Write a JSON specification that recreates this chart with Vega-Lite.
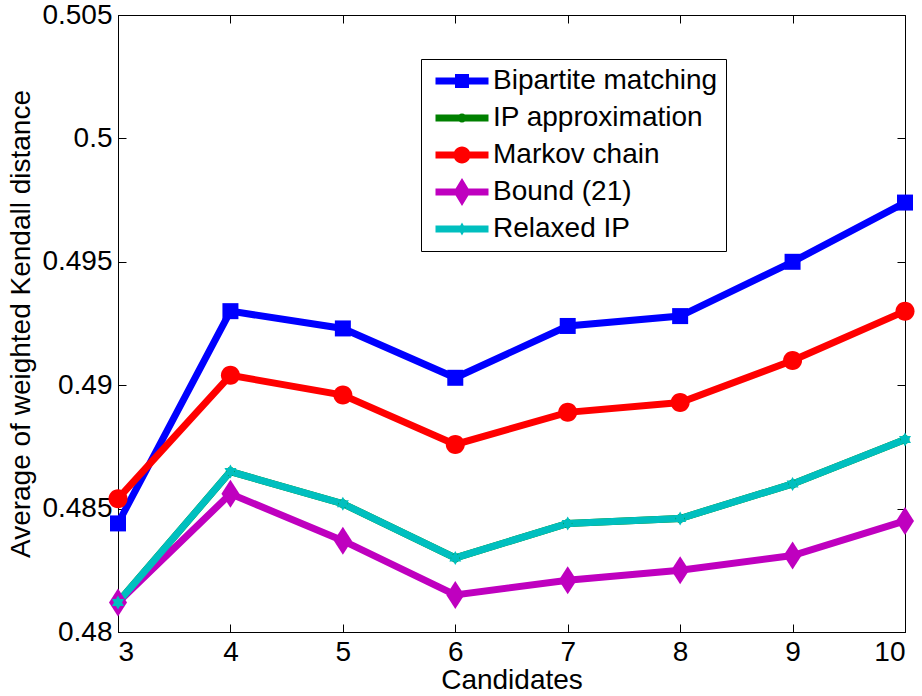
{
  "$schema": "https://vega.github.io/schema/vega-lite/v6.json",
  "width": 787,
  "height": 617,
  "autosize": "none",
  "padding": {"left": 118, "top": 15, "right": 17, "bottom": 64},
  "background": "white",
  "config": {
    "view": {"stroke": "black", "strokeWidth": 1},
    "font": "Liberation Sans",
    "axis": {
      "domainColor": "black",
      "tickColor": "black",
      "labelColor": "black",
      "titleColor": "black",
      "labelFont": "Liberation Sans",
      "titleFont": "Liberation Sans",
      "labelFontSize": 28,
      "titleFontSize": 28,
      "titleFontWeight": "normal",
      "grid": false,
      "tickSize": -8
    },
    "legend": {
      "orient": "none",
      "legendX": 303,
      "legendY": 44,
      "strokeColor": "black",
      "fillColor": "white",
      "padding": 8,
      "labelFont": "Liberation Sans",
      "labelFontSize": 28,
      "labelColor": "black",
      "labelLimit": 400,
      "symbolSize": 400,
      "symbolStrokeWidth": 0,
      "symbolOffset": 19,
      "labelOffset": 17,
      "rowPadding": 9
    }
  },
  "data": {
    "values": [
      {"series": "Bipartite matching", "x": 3, "y": 0.4844},
      {"series": "Bipartite matching", "x": 4, "y": 0.4930},
      {"series": "Bipartite matching", "x": 5, "y": 0.4923},
      {"series": "Bipartite matching", "x": 6, "y": 0.4903},
      {"series": "Bipartite matching", "x": 7, "y": 0.4924},
      {"series": "Bipartite matching", "x": 8, "y": 0.4928},
      {"series": "Bipartite matching", "x": 9, "y": 0.4950},
      {"series": "Bipartite matching", "x": 10, "y": 0.4974},
      {"series": "IP approximation", "x": 3, "y": 0.4812},
      {"series": "IP approximation", "x": 4, "y": 0.4865},
      {"series": "IP approximation", "x": 5, "y": 0.4852},
      {"series": "IP approximation", "x": 6, "y": 0.4830},
      {"series": "IP approximation", "x": 7, "y": 0.4844},
      {"series": "IP approximation", "x": 8, "y": 0.4846},
      {"series": "IP approximation", "x": 9, "y": 0.4860},
      {"series": "IP approximation", "x": 10, "y": 0.4878},
      {"series": "Markov chain", "x": 3, "y": 0.4854},
      {"series": "Markov chain", "x": 4, "y": 0.4904},
      {"series": "Markov chain", "x": 5, "y": 0.4896},
      {"series": "Markov chain", "x": 6, "y": 0.4876},
      {"series": "Markov chain", "x": 7, "y": 0.4889},
      {"series": "Markov chain", "x": 8, "y": 0.4893},
      {"series": "Markov chain", "x": 9, "y": 0.4910},
      {"series": "Markov chain", "x": 10, "y": 0.4930},
      {"series": "Bound (21)", "x": 3, "y": 0.4812},
      {"series": "Bound (21)", "x": 4, "y": 0.4856},
      {"series": "Bound (21)", "x": 5, "y": 0.4837},
      {"series": "Bound (21)", "x": 6, "y": 0.4815},
      {"series": "Bound (21)", "x": 7, "y": 0.4821},
      {"series": "Bound (21)", "x": 8, "y": 0.4825},
      {"series": "Bound (21)", "x": 9, "y": 0.4831},
      {"series": "Bound (21)", "x": 10, "y": 0.4845},
      {"series": "Relaxed IP", "x": 3, "y": 0.4812},
      {"series": "Relaxed IP", "x": 4, "y": 0.4865},
      {"series": "Relaxed IP", "x": 5, "y": 0.4852},
      {"series": "Relaxed IP", "x": 6, "y": 0.4830},
      {"series": "Relaxed IP", "x": 7, "y": 0.4844},
      {"series": "Relaxed IP", "x": 8, "y": 0.4846},
      {"series": "Relaxed IP", "x": 9, "y": 0.4860},
      {"series": "Relaxed IP", "x": 10, "y": 0.4878}
    ]
  },
  "layer": [
    {
      "mark": {"type": "line", "strokeWidth": 7, "clip": false},
      "encoding": {
        "x": {
          "field": "x", "type": "quantitative",
          "scale": {"domain": [3, 10], "nice": false, "zero": false},
          "axis": {"orient": "bottom", "title": "Candidates", "values": [3, 4, 5, 6, 7, 8, 9, 10], "format": "d", "labelPadding": 14, "titlePadding": 0}
        },
        "y": {
          "field": "y", "type": "quantitative",
          "scale": {"domain": [0.48, 0.505], "nice": false, "zero": false},
          "axis": {"orient": "left", "title": "Average of weighted Kendall distance", "values": [0.48, 0.485, 0.49, 0.495, 0.5, 0.505], "format": "~g", "labelPadding": 14, "titlePadding": 6}
        },
        "color": {
          "field": "series", "type": "nominal",
          "scale": {
            "domain": ["Bipartite matching", "IP approximation", "Markov chain", "Bound (21)", "Relaxed IP"],
            "range": ["#0000ff", "#008000", "#ff0000", "#bf00bf", "#00bfbf"]
          },
          "legend": {
            "title": null,
            "encode": {
              "symbols": {
                "update": {
                  "shape": {"signal": "datum.value === 'Bipartite matching' ? 'M-2.65,-0.35H2.65V0.35H-2.65Z M-0.7,-0.7H0.7V0.7H-0.7Z' : datum.value === 'IP approximation' ? 'M-2.65,-0.35H2.65V0.35H-2.65Z M-0.45,0A0.45,0.45 0 1,1 0.45,0A0.45,0.45 0 1,1 -0.45,0Z' : datum.value === 'Markov chain' ? 'M-2.65,-0.35H2.65V0.35H-2.65Z M-0.85,0A0.85,0.85 0 1,1 0.85,0A0.85,0.85 0 1,1 -0.85,0Z' : datum.value === 'Bound (21)' ? 'M-2.65,-0.35H2.65V0.35H-2.65Z M0,-1.4L0.85,0L0,1.4L-0.85,0Z' : 'M-2.65,-0.35H2.65V0.35H-2.65Z M0,-0.65L0.56,0.325L-0.56,0.325Z M0,0.65L-0.56,-0.325L0.56,-0.325Z'"},
                  "fill": {"signal": "scale('color', datum.value)"},
                  "stroke": {"value": "transparent"},
                  "strokeWidth": {"value": 0},
                  "opacity": {"value": 1}
                }
              }
            }
          }
        }
      }
    },
    {
      "mark": {
        "type": "point", "filled": true, "opacity": 1, "size": 400, "strokeWidth": 0, "clip": false,
        "shape": {"expr": "datum.series === 'Bipartite matching' ? 'M-0.8,-0.8H0.8V0.8H-0.8Z' : datum.series === 'IP approximation' ? 'M-0.45,0A0.45,0.45 0 1,1 0.45,0A0.45,0.45 0 1,1 -0.45,0Z' : datum.series === 'Markov chain' ? 'M-0.95,0A0.95,0.95 0 1,1 0.95,0A0.95,0.95 0 1,1 -0.95,0Z' : datum.series === 'Bound (21)' ? 'M0,-1.4L0.9,0L0,1.4L-0.9,0Z' : 'M0,-0.7L0.6,0.35L-0.6,0.35Z M0,0.7L-0.6,-0.35L0.6,-0.35Z'"}
      },
      "encoding": {
        "x": {
          "field": "x", "type": "quantitative",
          "scale": {"domain": [3, 10], "nice": false, "zero": false},
          "axis": {"orient": "top", "title": null, "labels": false, "values": [3, 4, 5, 6, 7, 8, 9, 10], "domain": false}
        },
        "y": {
          "field": "y", "type": "quantitative",
          "scale": {"domain": [0.48, 0.505], "nice": false, "zero": false},
          "axis": {"orient": "right", "title": null, "labels": false, "values": [0.48, 0.485, 0.49, 0.495, 0.5, 0.505], "domain": false}
        },
        "color": {
          "field": "series", "type": "nominal",
          "legend": {
            "title": null,
            "encode": {
              "symbols": {
                "update": {
                  "shape": {"signal": "datum.value === 'Bipartite matching' ? 'M-2.65,-0.35H2.65V0.35H-2.65Z M-0.7,-0.7H0.7V0.7H-0.7Z' : datum.value === 'IP approximation' ? 'M-2.65,-0.35H2.65V0.35H-2.65Z M-0.45,0A0.45,0.45 0 1,1 0.45,0A0.45,0.45 0 1,1 -0.45,0Z' : datum.value === 'Markov chain' ? 'M-2.65,-0.35H2.65V0.35H-2.65Z M-0.85,0A0.85,0.85 0 1,1 0.85,0A0.85,0.85 0 1,1 -0.85,0Z' : datum.value === 'Bound (21)' ? 'M-2.65,-0.35H2.65V0.35H-2.65Z M0,-1.4L0.85,0L0,1.4L-0.85,0Z' : 'M-2.65,-0.35H2.65V0.35H-2.65Z M0,-0.65L0.56,0.325L-0.56,0.325Z M0,0.65L-0.56,-0.325L0.56,-0.325Z'"},
                  "fill": {"signal": "scale('color', datum.value)"},
                  "stroke": {"value": "transparent"},
                  "strokeWidth": {"value": 0},
                  "opacity": {"value": 1}
                }
              }
            }
          }
        }
      }
    }
  ],
  "resolve": {"axis": {"x": "independent", "y": "independent"}}
}
